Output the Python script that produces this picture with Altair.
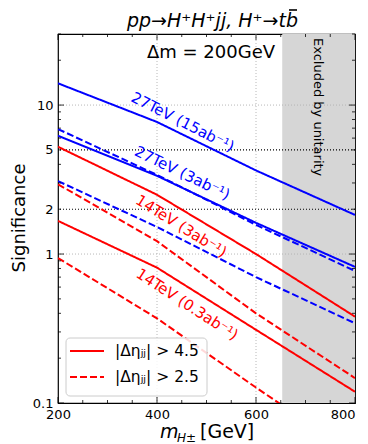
import altair as alt
import pandas as pd

# ---- data ----
masses = [200, 400, 600, 800]
s27_15_solid = [14.0, 7.7, 3.64, 1.83]
s27_15_dashed = [6.9, 3.4, 1.57, 0.77]
s27_3_solid = [6.22, 3.35, 1.62, 0.82]
s27_3_dashed = [3.09, 1.52, 0.70, 0.343]
s14_3_solid = [5.25, 2.5, 1.0, 0.38]
s14_3_dashed = [2.94, 1.22, 0.40, 0.147]
s14_03_solid = [1.67, 0.81, 0.31, 0.119]
s14_03_dashed = [0.94, 0.37, 0.127, 0.045]

cut_labels = ["|Δηⱼⱼ| > 4.5", "|Δηⱼⱼ| > 2.5"]
excluded = [653, 800]
ref_levels = [2, 5]
grid_x = [400, 600]
grid_y = [1, 10]
x_major = [200, 400, 600, 800]
x_minor = [250, 300, 350, 450, 500, 550, 650, 700, 750]
y_major = [0.1, 1, 10]
y_minor = [0.2, 0.3, 0.4, 0.5, 0.6, 0.7, 0.8, 0.9, 2, 3, 4, 5, 6, 7, 8, 9, 20, 30]
y_labels = [0.1, 1, 2, 5, 10]

line_labels = ["27TeV (15ab⁻¹)", "27TeV (3ab⁻¹)", "14TeV (3ab⁻¹)", "14TeV (0.3ab⁻¹)"]
label_m = [452, 451, 449, 461]
label_s = [7.7, 3.5, 1.54, 0.46]
label_angle = [27, 26, 32, 33]
label_color = ["#0000ff", "#0000ff", "#ff0000", "#ff0000"]

W, H = 297, 369
FONT = "DejaVu Sans"

series = [
    ("27_15_s", s27_15_solid, "#0000ff", cut_labels[0]),
    ("27_15_d", s27_15_dashed, "#0000ff", cut_labels[1]),
    ("27_3_s", s27_3_solid, "#0000ff", cut_labels[0]),
    ("27_3_d", s27_3_dashed, "#0000ff", cut_labels[1]),
    ("14_3_s", s14_3_solid, "#ff0000", cut_labels[0]),
    ("14_3_d", s14_3_dashed, "#ff0000", cut_labels[1]),
    ("14_03_s", s14_03_solid, "#ff0000", cut_labels[0]),
    ("14_03_d", s14_03_dashed, "#ff0000", cut_labels[1]),
]
rows = []
for name, vals, col, cut in series:
    for m, v in zip(masses, vals):
        rows.append({"m": m, "sig": v, "series": name, "color": col, "cut": cut})
df = pd.DataFrame(rows)

xs = alt.Scale(domain=[200, 800], nice=False, zero=False)
ys = alt.Scale(type="log", domain=[0.1, 30], nice=False)
xaxis = alt.Axis(values=x_major, tickSize=0, domain=False, grid=False, labelFontSize=13,
                 labelFont=FONT, labelColor="black", labelPadding=5, labelFlush=False,
                 labelOverlap=False, title=None,
                 labelAlign={"condition": {"test": "datum.value == 800", "value": "right"},
                             "value": "center"})
yaxis = alt.Axis(values=y_labels, format="~g", tickSize=0, domain=False, grid=False,
                 labelFontSize=13, labelFont=FONT, labelColor="black", labelPadding=5,
                 labelFlush=False, labelOverlap=False, title=None)


def X(f):
    return alt.X(f, scale=xs, axis=xaxis)


def Y(f):
    return alt.Y(f, scale=ys, axis=yaxis)


excl = alt.Chart(pd.DataFrame({"a": [excluded[0]], "b": [excluded[1]]})).mark_rect(
    color="#d6d6d6").encode(x=X("a:Q"), x2="b:Q", y=alt.value(0), y2=alt.value(H))

gx = alt.Chart(pd.DataFrame({"v": grid_x})).mark_rule(
    color="#b0b0b0", strokeDash=[1, 2], strokeWidth=0.9).encode(x=X("v:Q"))
gy = alt.Chart(pd.DataFrame({"v": grid_y})).mark_rule(
    color="#b0b0b0", strokeDash=[1, 2], strokeWidth=0.9).encode(y=Y("v:Q"))
ref = alt.Chart(pd.DataFrame({"v": ref_levels})).mark_rule(
    color="black", strokeDash=[1, 2], strokeWidth=1.1).encode(y=Y("v:Q"))

lines = alt.Chart(df).mark_line(strokeWidth=2, clip=True).encode(
    x=X("m:Q"),
    y=Y("sig:Q"),
    color=alt.Color("color:N", scale=None),
    detail="series:N",
    strokeDash=alt.StrokeDash("cut:N", scale=alt.Scale(domain=cut_labels, range=[[1, 0], [7, 3]]),
                              legend=None),
)


def ticks(vals, axis, length):
    d = pd.DataFrame({"v": vals})
    out = []
    if axis == "x":
        out.append(alt.Chart(d).mark_rule(color="black", strokeWidth=0.8).encode(
            x=X("v:Q"), y=alt.value(H), y2=alt.value(H - length)))
        out.append(alt.Chart(d).mark_rule(color="black", strokeWidth=0.8).encode(
            x=X("v:Q"), y=alt.value(0), y2=alt.value(length)))
    else:
        out.append(alt.Chart(d).mark_rule(color="black", strokeWidth=0.8).encode(
            y=Y("v:Q"), x=alt.value(0), x2=alt.value(length)))
        out.append(alt.Chart(d).mark_rule(color="black", strokeWidth=0.8).encode(
            y=Y("v:Q"), x=alt.value(W), x2=alt.value(W - length)))
    return out


tick_layers = ticks(x_major, "x", 6) + ticks(x_minor, "x", 3) + ticks(y_major, "y", 6) + ticks(y_minor, "y", 3)

lab_df = pd.DataFrame({"t": line_labels, "m": label_m, "s": label_s})
line_text = []
for i in range(len(line_labels)):
    line_text.append(alt.Chart(lab_df.iloc[[i]]).mark_text(
        font=FONT, fontSize=15, angle=label_angle[i], color=label_color[i]).encode(
        x=X("m:Q"), y=Y("s:Q"), text="t:N"))


def txt(text, x, y, size, **kw):
    return alt.Chart(pd.DataFrame({"t": [text]})).mark_text(
        font=FONT, fontSize=size, color="black", **kw).encode(
        x=alt.value(x), y=alt.value(y), text="t:N")


# manual legend (matplotlib style)
one = pd.DataFrame({"t": [0]})
leg_box = alt.Chart(one).mark_rect(fill="white", fillOpacity=0.85, stroke="#cccccc",
                                   strokeWidth=1, cornerRadius=4).encode(
    x=alt.value(8), x2=alt.value(149), y=alt.value(304), y2=alt.value(362))
leg_solid = alt.Chart(one).mark_rule(color="#ff0000", strokeWidth=2).encode(
    x=alt.value(12), x2=alt.value(46), y=alt.value(317))
leg_dash = alt.Chart(one).mark_rule(color="#ff0000", strokeWidth=2, strokeDash=[7, 3]).encode(
    x=alt.value(12), x2=alt.value(46), y=alt.value(343))
leg_t1 = txt(cut_labels[0], 57, 317, 15.5, align="left", baseline="middle")
leg_t2 = txt(cut_labels[1], 57, 343, 15.5, align="left", baseline="middle")

title_text = txt("pp→H⁺H⁺jj, H⁺→tb", 240, -7, 19, align="right", baseline="alphabetic",
                 fontStyle="italic")
title_bar = alt.Chart(one).mark_rule(color="black", strokeWidth=1.6).encode(
    x=alt.value(231), x2=alt.value(239), y=alt.value(-24))
dm_text = txt("Δm = 200GeV", 153, 19, 18, align="center", baseline="middle")
excl_text = txt("Excluded by unitarity", 260, 4, 13, align="left", baseline="middle", angle=90)
ylab = txt("Significance", -38, 184, 18, align="center", baseline="middle", angle=270)
xlab_m = txt("m", 102, 404, 19, align="left", baseline="alphabetic", fontStyle="italic")
xlab_sub = txt("H±", 119, 408, 12, align="left", baseline="alphabetic", fontStyle="italic")
xlab_gev = txt("[GeV]", 142, 404, 19, align="left", baseline="alphabetic")

chart = alt.layer(
    excl, gx, gy, ref, lines, *tick_layers, *line_text,
    leg_box, leg_solid, leg_dash, leg_t1, leg_t2,
    title_text, title_bar, dm_text, excl_text, ylab, xlab_m, xlab_sub, xlab_gev
).properties(
    width=W, height=H,
    autosize=alt.AutoSizeParams(type="none"),
    padding={"left": 50, "top": 26, "right": 5, "bottom": 41},
).configure_view(stroke="black", strokeWidth=1.2)

chart.save("out.html", embed_options={"renderer": "svg", "actions": False})
